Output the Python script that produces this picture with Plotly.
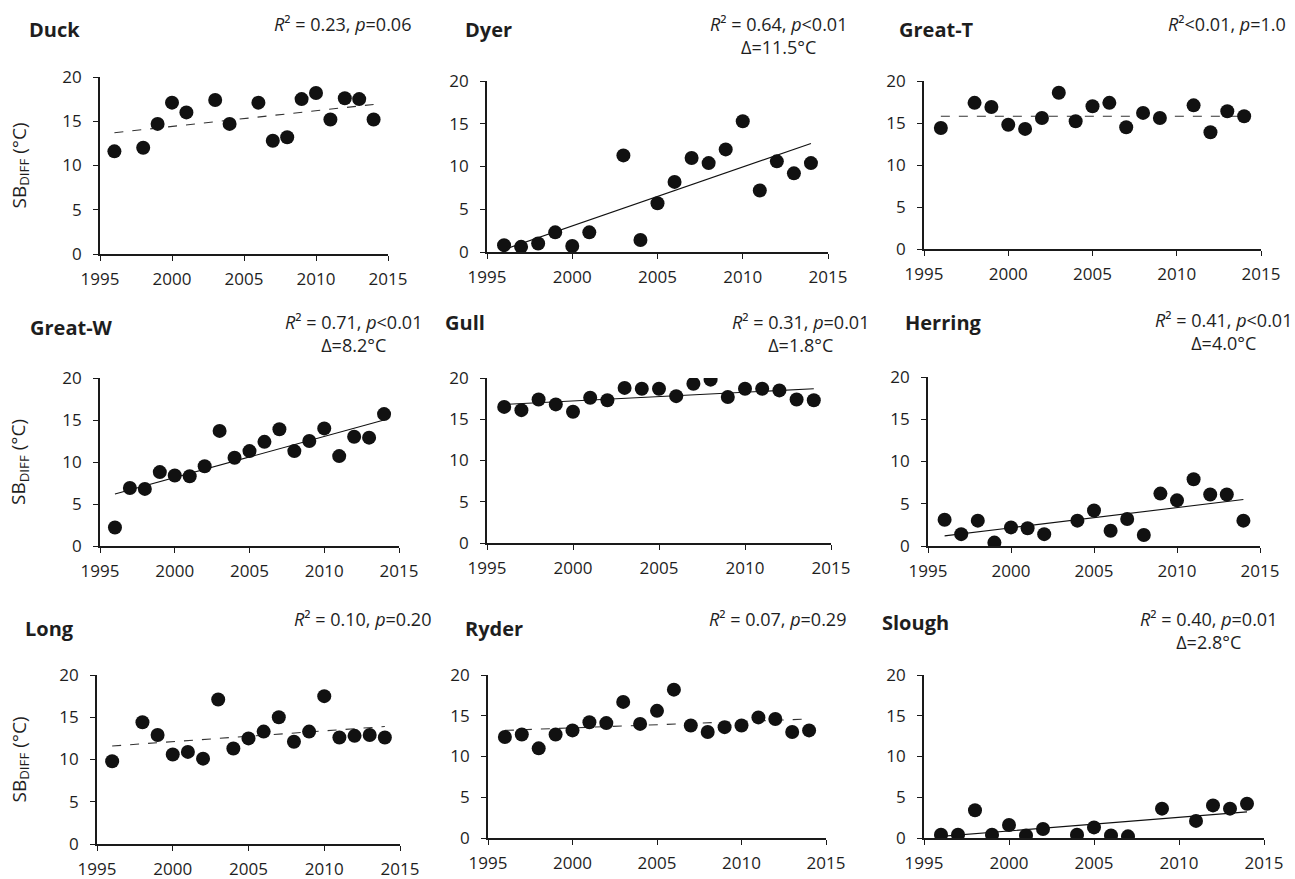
import plotly.graph_objects as go

# ---------------- data ----------------
names = ["Duck", "Dyer", "Great-T", "Great-W", "Gull", "Herring", "Long", "Ryder", "Slough"]

duck_years = [1996, 1998, 1999, 2000, 2001, 2003, 2004, 2006, 2007, 2008, 2009, 2010, 2011, 2012, 2013, 2014]
duck_sb = [11.6, 12.0, 14.7, 17.1, 16.0, 17.4, 14.7, 17.1, 12.8, 13.2, 17.5, 18.2, 15.2, 17.6, 17.5, 15.2]

dyer_years = [1996, 1997, 1998, 1999, 2000, 2001, 2003, 2004, 2005, 2006, 2007, 2008, 2009, 2010, 2011, 2012, 2013, 2014]
dyer_sb = [0.8, 0.6, 1.0, 2.3, 0.7, 2.3, 11.3, 1.4, 5.7, 8.2, 11.0, 10.4, 12.0, 15.3, 7.2, 10.6, 9.2, 10.4]

greatt_years = [1996, 1998, 1999, 2000, 2001, 2002, 2003, 2004, 2005, 2006, 2007, 2008, 2009, 2011, 2012, 2013, 2014]
greatt_sb = [14.4, 17.4, 16.9, 14.8, 14.3, 15.6, 18.6, 15.2, 17.0, 17.4, 14.5, 16.2, 15.6, 17.1, 13.9, 16.4, 15.8]

greatw_years = [1996, 1997, 1998, 1999, 2000, 2001, 2002, 2003, 2004, 2005, 2006, 2007, 2008, 2009, 2010, 2011, 2012, 2013, 2014]
greatw_sb = [2.2, 6.9, 6.8, 8.8, 8.4, 8.3, 9.5, 13.7, 10.5, 11.3, 12.4, 13.9, 11.3, 12.5, 14.0, 10.7, 13.0, 12.9, 15.7]

gull_years = [1996, 1997, 1998, 1999, 2000, 2001, 2002, 2003, 2004, 2005, 2006, 2007, 2008, 2009, 2010, 2011, 2012, 2013, 2014]
gull_sb = [16.5, 16.1, 17.4, 16.8, 15.9, 17.6, 17.3, 18.8, 18.7, 18.7, 17.8, 19.3, 19.8, 17.7, 18.7, 18.7, 18.5, 17.4, 17.3]

herring_years = [1996, 1997, 1998, 1999, 2000, 2001, 2002, 2004, 2005, 2006, 2007, 2008, 2009, 2010, 2011, 2012, 2013, 2014]
herring_sb = [3.1, 1.4, 3.0, 0.4, 2.2, 2.1, 1.4, 3.0, 4.2, 1.8, 3.2, 1.3, 6.2, 5.4, 7.9, 6.1, 6.1, 3.0]

long_years = [1996, 1998, 1999, 2000, 2001, 2002, 2003, 2004, 2005, 2006, 2007, 2008, 2009, 2010, 2011, 2012, 2013, 2014]
long_sb = [9.8, 14.4, 12.9, 10.6, 10.9, 10.1, 17.1, 11.3, 12.5, 13.3, 15.0, 12.1, 13.3, 17.5, 12.6, 12.8, 12.9, 12.6]

ryder_years = [1996, 1997, 1998, 1999, 2000, 2001, 2002, 2003, 2004, 2005, 2006, 2007, 2008, 2009, 2010, 2011, 2012, 2013, 2014]
ryder_sb = [12.4, 12.7, 11.0, 12.7, 13.2, 14.2, 14.1, 16.7, 14.0, 15.6, 18.2, 13.8, 13.0, 13.6, 13.8, 14.8, 14.6, 13.0, 13.2]

slough_years = [1996, 1997, 1998, 1999, 2000, 2001, 2002, 2004, 2005, 2006, 2007, 2009, 2011, 2012, 2013, 2014]
slough_sb = [0.4, 0.4, 3.4, 0.4, 1.6, 0.3, 1.1, 0.4, 1.3, 0.3, 0.2, 3.6, 2.1, 4.0, 3.6, 4.2]

# fitted trend line end points (start year, end year) and values
trend_years = [1996, 2014]
trend_start = [13.7, 0.3, 15.8, 6.2, 16.8, 1.2, 11.6, 13.2, 0.2]
trend_end = [16.9, 12.7, 15.8, 15.0, 18.7, 5.5, 13.9, 14.6, 3.2]
significant = [False, True, False, True, True, True, False, False, True]

r2_labels = ["0.23", "0.64", "<0.01", "0.71", "0.31", "0.41", "0.10", "0.07", "0.40"]
p_labels = ["=0.06", "<0.01", "=1.0", "<0.01", "=0.01", "<0.01", "=0.20", "=0.29", "=0.01"]
delta_labels = [None, "11.5", None, "8.2", "1.8", "4.0", None, None, "2.8"]

x_ticks = [1995, 2000, 2005, 2010, 2015]
y_ticks = [0, 5, 10, 15, 20]

all_years = [duck_years, dyer_years, greatt_years, greatw_years, gull_years,
             herring_years, long_years, ryder_years, slough_years]
all_sb = [duck_sb, dyer_sb, greatt_sb, greatw_sb, gull_sb,
          herring_sb, long_sb, ryder_sb, slough_sb]

# ---------------- layout (pixels) ----------------
W, H = 1295, 879
# plot area boxes: (x0, x1, ytop, ybottom)
boxes = [
    (100, 388, 77, 254), (487, 828, 81, 252), (924, 1261, 81, 249),
    (100, 399, 378, 546), (487, 831, 378, 543), (928, 1260, 377, 546),
    (97, 400, 675, 844), (488, 826, 675, 838), (924, 1264, 675, 838),
]
title_pos = [(27, 30), (463, 30), (897, 30),
             (28, 328), (443, 322), (903, 322),
             (23, 628), (463, 628), (880, 622)]
stat_pos = [(413, 10), (849, 10), (1288, 10),
            (424, 308), (871, 308), (1294, 306),
            (433, 605), (848, 605), (1279, 605)]

FONT = "Open Sans, Lato, sans-serif"
AX = "#1a1a1a"

fig = go.Figure()
layout = dict(
    template="none",
    width=W, height=H, margin=dict(l=0, r=0, t=0, b=0, pad=0, autoexpand=False),
    paper_bgcolor="white", plot_bgcolor="white", showlegend=False,
    font=dict(family=FONT, size=17, color="#1e1e1e"),
)
annotations = []

for i in range(9):
    n = i + 1
    xa = "xaxis" if n == 1 else f"xaxis{n}"
    ya = "yaxis" if n == 1 else f"yaxis{n}"
    xr = "x" if n == 1 else f"x{n}"
    yr = "y" if n == 1 else f"y{n}"
    x0, x1, yt, yb = boxes[i]
    layout[xa] = dict(
        domain=[x0 / W, x1 / W], anchor=yr, range=[1995, 2015], automargin=False,
        tickvals=x_ticks, ticks="outside", ticklen=5, tickwidth=1.3, tickcolor=AX,
        showline=True, linecolor=AX, linewidth=1.8, showgrid=False, zeroline=False,
        tickfont=dict(size=17, color="#1e1e1e"), ticklabelstandoff=4,
    )
    layout[ya] = dict(
        domain=[1 - yb / H, 1 - yt / H], anchor=xr, range=[0, 20], automargin=False,
        tickvals=y_ticks, ticks="outside", ticklen=5, tickwidth=1.3, tickcolor=AX,
        showline=True, linecolor=AX, linewidth=1.8, showgrid=False, zeroline=False,
        tickfont=dict(size=17, color="#1e1e1e"), ticklabelstandoff=8,
    )
    # trend line
    fig.add_trace(go.Scatter(
        x=trend_years, y=[trend_start[i], trend_end[i]], mode="lines",
        line=dict(color="#111" if significant[i] else "#333",
                  width=1.1, dash="solid" if significant[i] else "dash"),
        xaxis=xr, yaxis=yr, hoverinfo="skip",
    ))
    # points
    fig.add_trace(go.Scatter(
        x=all_years[i], y=all_sb[i], mode="markers",
        marker=dict(color="#111", size=14, line=dict(width=0)),
        xaxis=xr, yaxis=yr, name=names[i],
    ))
    # panel title
    tx, ty = title_pos[i]
    annotations.append(dict(
        text=f"<b>{names[i]}</b>", xref="paper", yref="paper",
        x=tx / W, y=1 - ty / H, xanchor="left", yanchor="middle",
        showarrow=False, font=dict(size=20, color="#1e1e1e"),
    ))
    # statistics
    r2 = r2_labels[i].replace("<", "&lt;")
    pv = p_labels[i].replace("<", "&lt;")
    if r2_labels[i].startswith("<"):
        line1 = f"<i>R</i>\u00b2{r2}, <i>p</i>{pv}"
    else:
        line1 = f"<i>R</i>\u00b2 = {r2}, <i>p</i>{pv}"
    txt = line1
    if delta_labels[i] is not None:
        txt += f"<br>\u0394={delta_labels[i]}\u00b0C"
    sx, sy = stat_pos[i]
    annotations.append(dict(
        text=txt, xref="paper", yref="paper",
        x=sx / W, y=1 - sy / H, xanchor="right", yanchor="top", align="center",
        showarrow=False, font=dict(size=18, color="#1e1e1e"),
    ))
    # y-axis title on first column
    if i % 3 == 0:
        annotations.append(dict(
            text="SB<sub>DIFF</sub> (°C)", xref="paper", yref="paper",
            x=19 / W, y=1 - ((yt + yb) / 2) / H, xanchor="center", yanchor="middle",
            textangle=-90, showarrow=False, font=dict(size=19, color="#1e1e1e"),
        ))

layout["annotations"] = annotations
fig.update_layout(**layout)
fig.write_html(
    "out.html",
    config={"displayModeBar": False},
    post_script="document.body.style.margin='0';document.body.style.overflow='hidden';",
)
